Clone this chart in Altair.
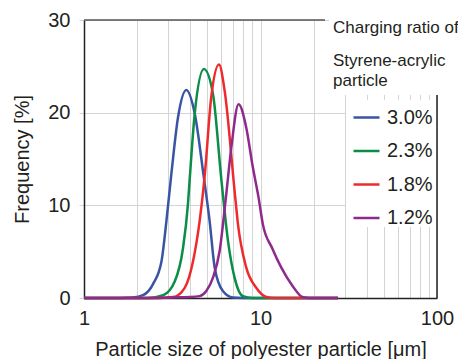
import altair as alt
import pandas as pd

series_names = ["3.0%", "2.3%", "1.8%", "1.2%"]
series_colors = ["#3a54a4", "#0b8c47", "#ee2a2e", "#8d2a8c"]

x_30 = [1, 1.6, 1.89, 2.16, 2.46, 2.75, 2.93, 3.13, 3.41, 3.80, 4.24, 4.76, 5.15, 5.5, 6.12, 6.98, 8, 27.5]
y_30 = [0, 0, 0.05, 0.3, 1.5, 4.0, 8.3, 13.5, 19.5, 22.45, 19.9, 13.2, 8.3, 3.3, 0.75, 0.05, 0, 0]

x_23 = [1, 2.3, 2.81, 3.27, 3.64, 3.88, 3.97, 4.24, 4.78, 5.38, 6.0, 6.54, 7.13, 7.94, 9, 27.5]
y_23 = [0, 0, 0.3, 1.8, 5.4, 10.1, 12.8, 19.9, 24.7, 22.0, 12.8, 6.2, 2.2, 0.2, 0, 0]

x_18 = [1, 2.6, 3.2, 3.72, 4.15, 4.52, 4.83, 5.26, 5.82, 6.26, 7.13, 7.45, 8.3, 9.46, 10.8, 12, 27.5]
y_18 = [0, 0, 0.1, 1.1, 4.0, 8.3, 13.2, 21.7, 25.2, 22.4, 11.6, 8.0, 3.3, 1.1, 0.1, 0, 0]

x_12 = [1, 2.5, 3.0, 4.0, 4.52, 4.93, 5.38, 5.87, 6.34, 6.83, 7.51, 8.3, 9.05, 9.78, 10.3, 11.7, 13.1, 15.2, 17.3, 19, 27.5]
y_12 = [0, 0, 0.05, 0.1, 0.2, 0.75, 2.2, 5.1, 10.5, 16.2, 20.9, 18.4, 14.1, 10.7, 8.0, 5.3, 3.3, 1.3, 0.1, 0, 0]

x_grid = [1, 2, 3, 4, 5, 6, 7, 8, 9, 10, 20, 30, 40, 50, 60, 70, 80, 90, 100]
x_labels = [1, 10, 100]
y_ticks = [0, 10, 20, 30]
legend_title_lines = ["Charging ratio of", "Styrene-acrylic", "particle"]

FONT = "Liberation Sans"
TXT = "#231f20"
GRID = "#d4d4d4"

rows = []
for name, xs, ys in zip(series_names, [x_30, x_23, x_18, x_12], [y_30, y_23, y_18, y_12]):
    for i, (a, b) in enumerate(zip(xs, ys)):
        rows.append({"series": name, "size": a, "freq": b, "order": i})
df = pd.DataFrame(rows)

W, H = 353, 278

lines = alt.Chart(df).mark_line(strokeWidth=2.5, interpolate="monotone").encode(
    x=alt.X("size:Q", scale=alt.Scale(type="log", domain=[1, 100], nice=False),
            axis=alt.Axis(values=x_grid, labelExpr="indexof([1,10,100], datum.value) >= 0 ? datum.label : ''",
                          title="Particle size of polyester particle [\u03bcm]",
                          grid=True, gridColor=GRID, ticks=False, domain=True, domainColor="#222222",
                          domainWidth=1.5, labelFontSize=20, labelFont=FONT, labelColor=TXT, labelPadding=10,
                          labelFlush=False, titleFont=FONT, titleFontSize=20, titleFontWeight="normal",
                          titleColor=TXT, titleX=W / 2, titleY=57, titleBaseline="alphabetic")),
    y=alt.Y("freq:Q", scale=alt.Scale(domain=[0, 30], nice=False),
            axis=alt.Axis(values=y_ticks, title="Frequency [%]", grid=True, gridColor=GRID,
                          ticks=True, tickColor=GRID, tickSize=5, domain=True, domainColor="#222222",
                          domainWidth=1.5, labelFontSize=20, labelFont=FONT, labelColor=TXT, labelPadding=9,
                          titleFont=FONT, titleFontSize=20, titleFontWeight="normal", titleColor=TXT,
                          titleX=-62, titleY=H / 2, titleAngle=270, titleAlign="center",
                          titleBaseline="middle")),
    color=alt.Color("series:N", sort=series_names,
                    scale=alt.Scale(domain=series_names, range=series_colors),
                    legend=alt.Legend(title=None, orient="none", legendX=268, legendY=83,
                                      symbolType="stroke", symbolSize=676, symbolStrokeWidth=2.5,
                                      labelFontSize=20, labelFont=FONT, labelColor=TXT, labelOffset=6,
                                      rowPadding=8.5, padding=0)),
    order="order:Q",
)

cover_top = alt.Chart(pd.DataFrame({"a": [0]})).mark_rect(color="white").encode(
    x=alt.value(245), x2=alt.value(380), y=alt.value(-12), y2=alt.value(75))
cover_legend = alt.Chart(pd.DataFrame({"a": [0]})).mark_rect(color="white").encode(
    x=alt.value(262), x2=alt.value(W), y=alt.value(80), y2=alt.value(207))
top_border = alt.Chart(pd.DataFrame({"a": [0]})).mark_rule(color="#555555", strokeWidth=1.5).encode(
    x=alt.value(0), x2=alt.value(241), y=alt.value(0))
right_border = alt.Chart(pd.DataFrame({"a": [0]})).mark_rule(color="#222222", strokeWidth=1.5).encode(
    x=alt.value(W), y=alt.value(75), y2=alt.value(H))

title_df = pd.DataFrame({"t": legend_title_lines, "yy": [13.3, 45.7, 65.7]})
title_text = alt.Chart(title_df).mark_text(align="left", baseline="alphabetic", fontSize=17, font=FONT,
                                          color=TXT).encode(
    x=alt.value(249), y=alt.Y("yy:Q", scale=None), text="t:N")

chart = alt.layer(cover_top, cover_legend, lines, top_border, right_border, title_text).properties(
    width=W, height=H, padding={"left": 76, "top": 12, "right": 21, "bottom": 61}, autosize="none"
).configure_view(stroke=None)

chart.save("out.html", embed_options={"renderer": "svg", "actions": False})
